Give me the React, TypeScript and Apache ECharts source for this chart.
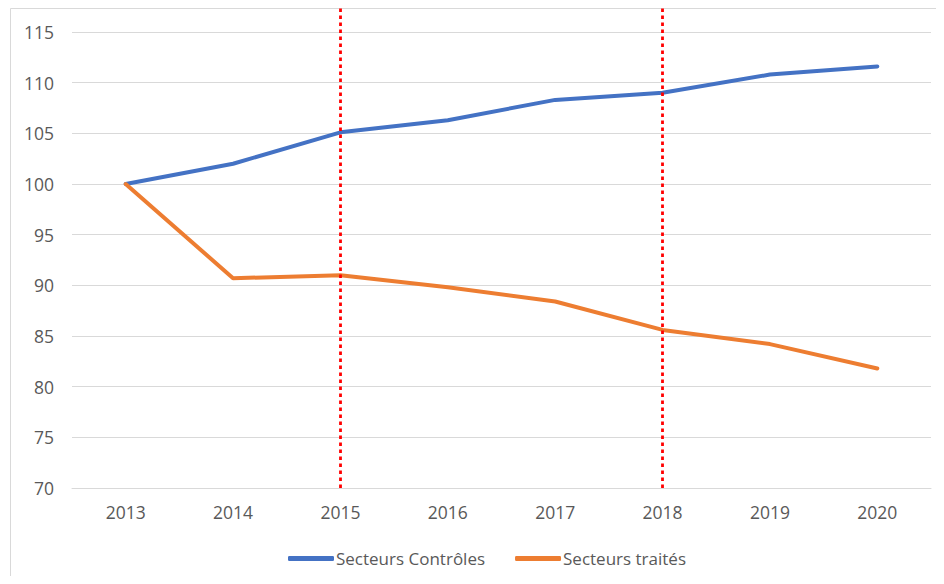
import React, { useEffect, useRef } from "react";
import * as echarts from "echarts";

const years = ["2013", "2014", "2015", "2016", "2017", "2018", "2019", "2020"];
const controles = [100, 102.0, 105.1, 106.3, 108.3, 109.0, 110.8, 111.6];
const traites = [100, 90.7, 91.0, 89.8, 88.4, 85.6, 84.2, 81.8];
const markedYears = ["2015", "2018"];
const seriesNames = ["Secteurs Contrôles", "Secteurs traités"];

const FONT = "'Open Sans', 'Noto Sans', sans-serif";
const LABEL = "#595959";
const GRID = "#D9D9D9";

export default function App() {
  const ref = useRef<HTMLDivElement>(null);
  useEffect(() => {
    if (!ref.current) return;
    const chart = echarts.init(ref.current, null, { renderer: "svg" });
    chart.setOption({
      animation: false,
      backgroundColor: "#ffffff",
      textStyle: { fontFamily: FONT },
      graphic: [
        {
          type: "rect",
          shape: { x: 10.5, y: 8.5, width: 960, height: 600 },
          style: { fill: "none", stroke: GRID, lineWidth: 1 },
          silent: true,
          z: -1,
        },
      ],
      grid: [
        { left: 72, right: 13, top: 32, bottom: 96 },
        { left: 72, right: 13, top: 8, bottom: 96 },
      ],
      xAxis: [
        {
          type: "category",
          data: years,
          gridIndex: 0,
          boundaryGap: true,
          axisLine: { lineStyle: { color: GRID, width: 1 } },
          axisTick: { show: false },
          axisLabel: { color: LABEL, fontSize: 17.5, fontFamily: FONT, margin: 15 },
        },
        {
          type: "category",
          data: years,
          gridIndex: 1,
          boundaryGap: true,
          show: false,
        },
      ],
      yAxis: [
        {
          type: "value",
          gridIndex: 0,
          min: 70,
          max: 115,
          interval: 5,
          axisLine: { show: false },
          axisTick: { show: false },
          splitLine: { lineStyle: { color: GRID, width: 1 } },
          axisLabel: { color: LABEL, fontSize: 17.5, fontFamily: FONT, margin: 18 },
        },
        {
          type: "value",
          gridIndex: 1,
          min: 0,
          max: 1,
          show: false,
        },
      ],
      legend: {
        data: seriesNames,
        left: 283,
        top: 545,
        icon: "roundRect",
        itemWidth: 46,
        itemHeight: 5,
        itemGap: 30,
        textStyle: { color: LABEL, fontSize: 17, fontFamily: FONT, padding: [0, 0, 0, -3] },
      },
      series: [
        {
          name: seriesNames[0],
          type: "line",
          data: controles,
          xAxisIndex: 0,
          yAxisIndex: 0,
          symbol: "none",
          lineStyle: { color: "#4472C4", width: 4, cap: "round", join: "round" },
          itemStyle: { color: "#4472C4" },
          z: 3,
        },
        {
          name: seriesNames[1],
          type: "line",
          data: traites,
          xAxisIndex: 0,
          yAxisIndex: 0,
          symbol: "none",
          lineStyle: { color: "#ED7D31", width: 4, cap: "round", join: "round" },
          itemStyle: { color: "#ED7D31" },
          z: 3,
        },
        {
          name: "marks",
          type: "line",
          data: years.map(() => null),
          xAxisIndex: 1,
          yAxisIndex: 1,
          symbol: "none",
          silent: true,
          z: 4,
          markLine: {
            silent: true,
            symbol: ["none", "none"],
            label: { show: false },
            lineStyle: { color: "#FF0000", width: 2.8, type: [3.5, 3.5] },
            data: markedYears.map((y) => ({ xAxis: y })),
          },
        },
      ],
    });
    return () => chart.dispose();
  }, []);
  return <div ref={ref} style={{ width: 944, height: 584, margin: -8 }} />;
}
